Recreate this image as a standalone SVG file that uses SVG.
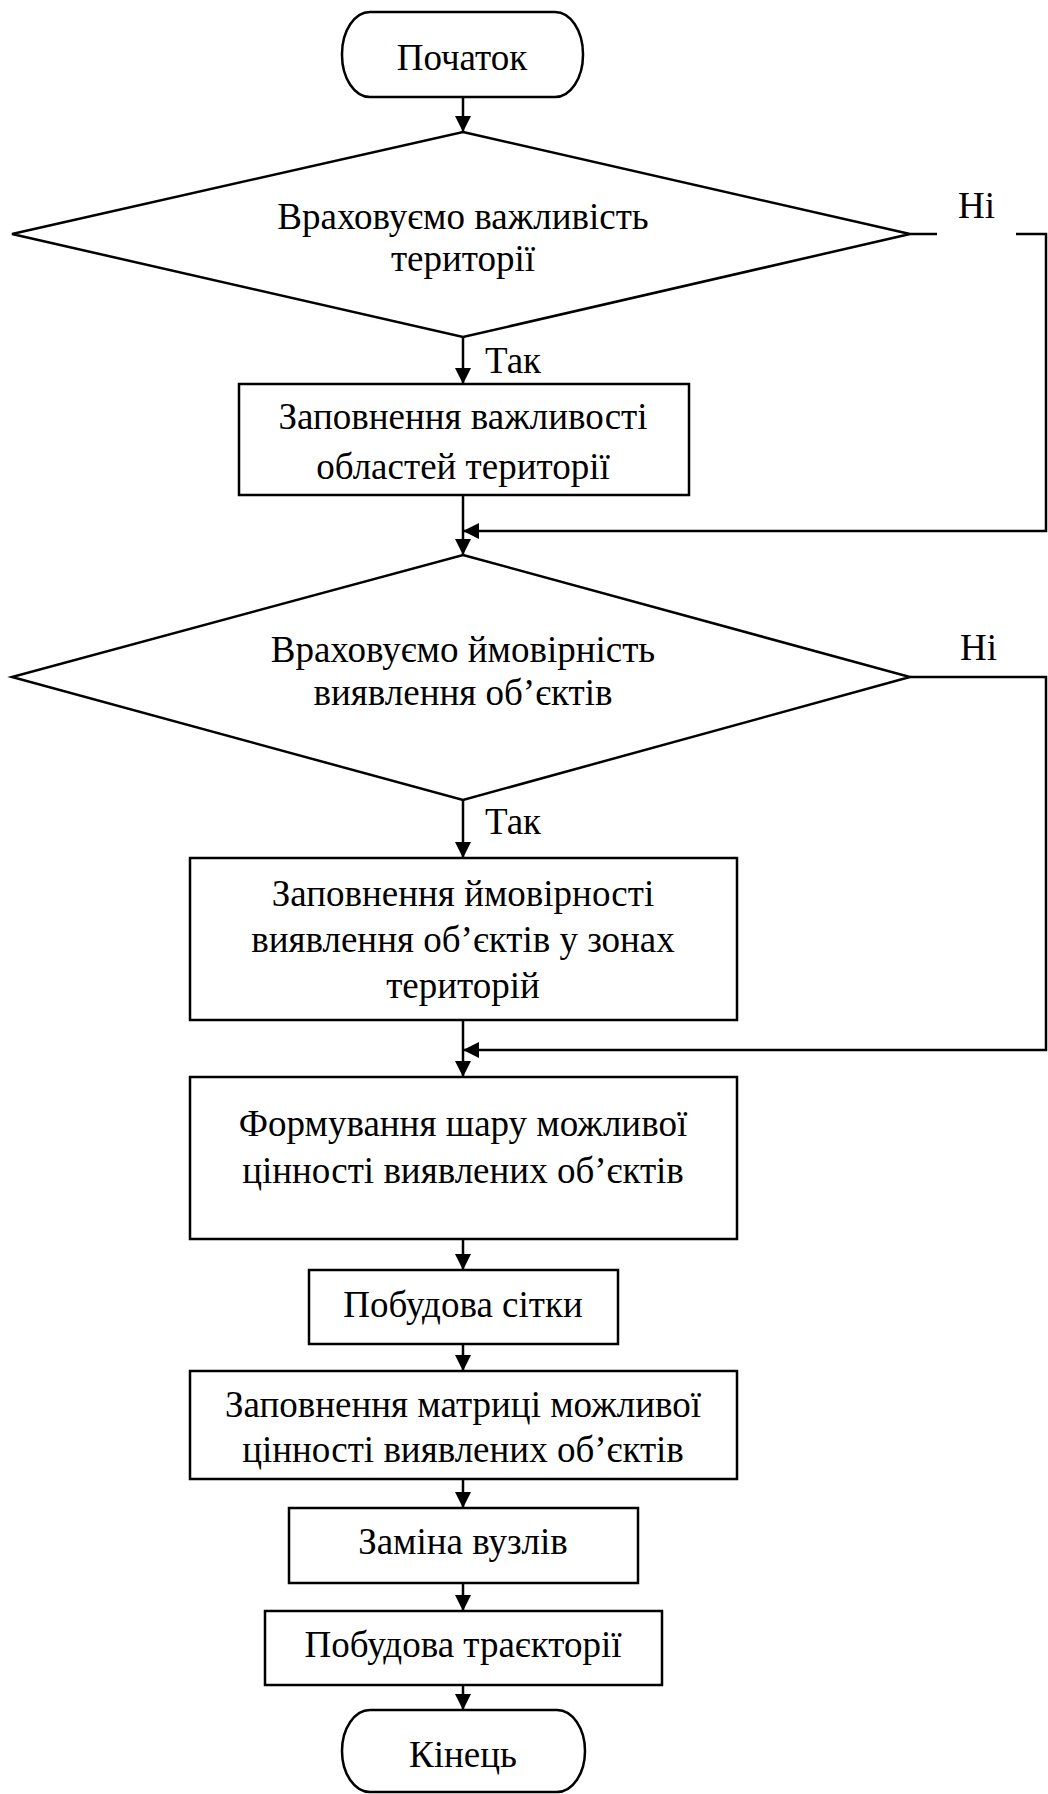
<svg xmlns="http://www.w3.org/2000/svg" width="1048" height="1794" viewBox="0 0 1048 1794">
<defs>
<style>
.box{fill:#fff;stroke:#000;stroke-width:2.5}
.ln{fill:none;stroke:#000;stroke-width:2.5}
.t{font-family:"Liberation Serif","Times New Roman",serif;font-size:37px;fill:#000;text-anchor:middle}
.lbl{font-family:"Liberation Serif","Times New Roman",serif;font-size:37px;fill:#000}
</style>
<marker id="arr" viewBox="0 0 16 16" refX="16" refY="8" markerWidth="16" markerHeight="16" markerUnits="userSpaceOnUse" orient="auto">
<path d="M0,0 L16,8 L0,16 Z" fill="#000"/>
</marker>
</defs>
<rect width="1048" height="1794" fill="#fff"/>
<g id="connectors">
<line class="ln" x1="463" y1="97" x2="463" y2="132" marker-end="url(#arr)"/>
<line class="ln" x1="463" y1="337" x2="463" y2="384" marker-end="url(#arr)"/>
<line class="ln" x1="910" y1="234" x2="937" y2="234"/>
<path class="ln" d="M1016,234 H1046 V531 H463" marker-end="url(#arr)"/>
<line class="ln" x1="463" y1="495" x2="463" y2="555" marker-end="url(#arr)"/>
<path class="ln" d="M910,677 H1046 V1050 H463" marker-end="url(#arr)"/>
<line class="ln" x1="463" y1="800" x2="463" y2="858" marker-end="url(#arr)"/>
<line class="ln" x1="463" y1="1020" x2="463" y2="1077" marker-end="url(#arr)"/>
<line class="ln" x1="463" y1="1239" x2="463" y2="1270" marker-end="url(#arr)"/>
<line class="ln" x1="463" y1="1344" x2="463" y2="1371" marker-end="url(#arr)"/>
<line class="ln" x1="463" y1="1479" x2="463" y2="1508" marker-end="url(#arr)"/>
<line class="ln" x1="463" y1="1583" x2="463" y2="1611" marker-end="url(#arr)"/>
<line class="ln" x1="463" y1="1685" x2="463" y2="1710" marker-end="url(#arr)"/>
<text class="lbl" x="958" y="218">Ні</text>
<text class="lbl" x="485" y="373">Так</text>
<text class="lbl" x="960" y="660">Ні</text>
<text class="lbl" x="485" y="834">Так</text>
</g>
<g id="start">
<rect class="box" x="342" y="12" width="241" height="85" rx="28" ry="42"/>
<text class="t" x="462" y="70">Початок</text>
</g>
<g id="decision1">
<polygon class="box" points="463,132 910,234 463,337 12,234"/>
<text class="t" x="463" y="229">Враховуємо важливість</text>
<text class="t" x="463" y="271">території</text>
</g>
<g id="step1">
<rect class="box" x="239" y="384" width="450" height="111"/>
<text class="t" x="463" y="429">Заповнення важливості</text>
<text class="t" x="463" y="479">областей території</text>
</g>
<g id="decision2">
<polygon class="box" points="463,555 910,677 463,800 12,677"/>
<text class="t" x="463" y="662">Враховуємо ймовірність</text>
<text class="t" x="463" y="705">виявлення об’єктів</text>
</g>
<g id="step2">
<rect class="box" x="190" y="858" width="547" height="162"/>
<text class="t" x="463" y="906">Заповнення ймовірності</text>
<text class="t" x="463" y="952">виявлення об’єктів у зонах</text>
<text class="t" x="463" y="998">територій</text>
</g>
<g id="step3">
<rect class="box" x="190" y="1077" width="547" height="162"/>
<text class="t" x="463" y="1136">Формування шару можливої</text>
<text class="t" x="463" y="1183">цінності виявлених об’єктів</text>
</g>
<g id="step4">
<rect class="box" x="309" y="1270" width="309" height="74"/>
<text class="t" x="463" y="1317">Побудова сітки</text>
</g>
<g id="step5">
<rect class="box" x="190" y="1371" width="547" height="108"/>
<text class="t" x="463" y="1417">Заповнення матриці можливої</text>
<text class="t" x="463" y="1462">цінності виявлених об’єктів</text>
</g>
<g id="step6">
<rect class="box" x="289" y="1508" width="349" height="75"/>
<text class="t" x="463" y="1554">Заміна вузлів</text>
</g>
<g id="step7">
<rect class="box" x="265" y="1611" width="397" height="74"/>
<text class="t" x="463" y="1657">Побудова траєкторії</text>
</g>
<g id="end">
<rect class="box" x="342" y="1710" width="243" height="82" rx="28" ry="41"/>
<text class="t" x="463" y="1767">Кінець</text>
</g>
</svg>
